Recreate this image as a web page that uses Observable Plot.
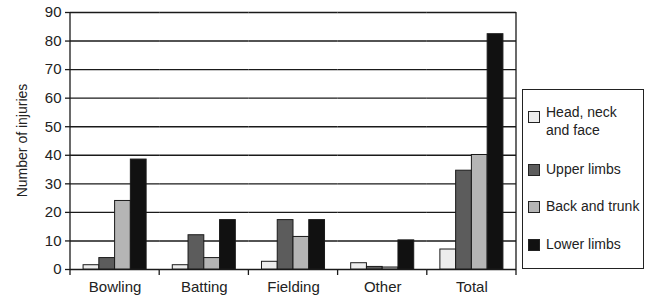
<!DOCTYPE html>
<html>
<head>
<meta charset="utf-8">
<script src="https://cdn.jsdelivr.net/npm/d3@7"></script>
<script src="https://cdn.jsdelivr.net/npm/@observablehq/plot@0.6"></script>
<style>
  html, body { margin: 0; padding: 0; background: #fff; }
  #wrap { position: relative; width: 655px; height: 295px; font-family: "Liberation Sans", Arial, sans-serif; color: #222; }
  #legend { position: absolute; left: 522px; top: 89px; width: 120px; height: 178px; border: 1px solid #222; box-sizing: content-box; font-size: 14px; }
  .item { position: absolute; left: 5px; }
  .sw { position: absolute; left: 0; width: 10px; height: 10px; border: 1px solid #222; }
  .lab { position: absolute; left: 18px; white-space: nowrap; line-height: 18px; }
</style>
</head>
<body>
<div id="wrap"></div>
<script>
const categories = ["Bowling", "Batting", "Fielding", "Other", "Total"];
const parts = ["Head, neck and face", "Upper limbs", "Back and trunk", "Lower limbs"];
const legendLabels = [["Head, neck", "and face"], ["Upper limbs"], ["Back and trunk"], ["Lower limbs"]];
const headNeckFace = [1.5, 1.5, 2.7, 2.2, 7];
const upperLimbs = [4, 12, 17.3, 0.9, 34.6];
const backTrunk = [24, 4, 11.4, 0.7, 40.1];
const lowerLimbs = [38.5, 17.3, 17.3, 10.2, 82.4];
const yTicks = [0, 10, 20, 30, 40, 50, 60, 70, 80, 90];
const colors = ["#ededed", "#5c5c5c", "#b5b5b5", "#111111"];
const yLabel = "Number of injuries";

const series = [headNeckFace, upperLimbs, backTrunk, lowerLimbs];
const data = [];
categories.forEach((c, i) => parts.forEach((p, j) => data.push({category: c, part: p, value: series[j][i]})));

const FONT = '"Liberation Sans", Arial, sans-serif';
const chart = Plot.plot({
  width: 655, height: 295,
  marginLeft: 70, marginRight: 139, marginTop: 12, marginBottom: 26,
  style: {fontFamily: FONT, fontSize: "14px", color: "#222", background: "transparent", overflow: "visible"},
  fx: {domain: categories, padding: 0, label: null, round: false},
  x: {domain: parts, paddingInner: 0, paddingOuter: 0.83, axis: null, round: false},
  y: {domain: [0, 90], label: null},
  color: {domain: parts, range: colors},
  marks: [
    Plot.axisFx({anchor: "bottom", tickSize: 0, tickPadding: 12, fontSize: 15, fontFamily: FONT, fill: "#222", label: null}),
    Plot.axisY(yTicks, {anchor: "left", tickSize: 5, tickPadding: 4, fontSize: 15, fontFamily: FONT, fill: "#222", stroke: "#1a1a1a", strokeWidth: 1.3, label: null}),
    Plot.ruleY(yTicks, {stroke: "#1a1a1a", strokeWidth: 1.4}),
    Plot.barY(data, {fx: "category", x: "part", y: "value", fill: "part", stroke: "#1a1a1a", strokeWidth: 1})
  ]
});

const svg = d3.select(chart);
const fx = chart.scale("fx");
const y = chart.scale("y");
const y0 = y.apply(0), yTop = y.apply(90);
const left = fx.apply(categories[0]);
const right = fx.apply(categories[categories.length - 1]) + fx.bandwidth;
const g = svg.append("g").attr("stroke", "#1a1a1a").attr("stroke-width", 1.3);
g.append("line").attr("x1", left).attr("x2", left).attr("y1", yTop).attr("y2", y0 + 6);
g.append("line").attr("x1", right).attr("x2", right).attr("y1", yTop).attr("y2", y0 + 6);
categories.slice(1).forEach(c => {
  const x = fx.apply(c);
  g.append("line").attr("x1", x).attr("x2", x).attr("y1", y0).attr("y2", y0 + 6);
});
svg.append("text")
  .attr("transform", `translate(23,${(y0 + yTop) / 2}) rotate(-90)`)
  .attr("text-anchor", "middle").attr("dominant-baseline", "middle")
  .attr("fill", "#222").attr("font-size", 14)
  .attr("font-family", FONT)
  .text(yLabel);

const wrap = document.getElementById("wrap");
wrap.appendChild(chart);
const legend = document.createElement("div");
legend.id = "legend";
const itemTops = [13, 70, 107, 145];
legendLabels.forEach((lines, j) => {
  const item = document.createElement("div");
  item.className = "item";
  item.style.top = itemTops[j] + "px";
  const sw = document.createElement("div");
  sw.className = "sw";
  sw.style.top = (lines.length > 1 ? 8 : 4) + "px";
  sw.style.background = colors[j];
  const lab = document.createElement("div");
  lab.className = "lab";
  lab.innerHTML = lines.join("<br>");
  item.appendChild(sw);
  item.appendChild(lab);
  legend.appendChild(item);
});
wrap.appendChild(legend);
</script>
</body>
</html>
